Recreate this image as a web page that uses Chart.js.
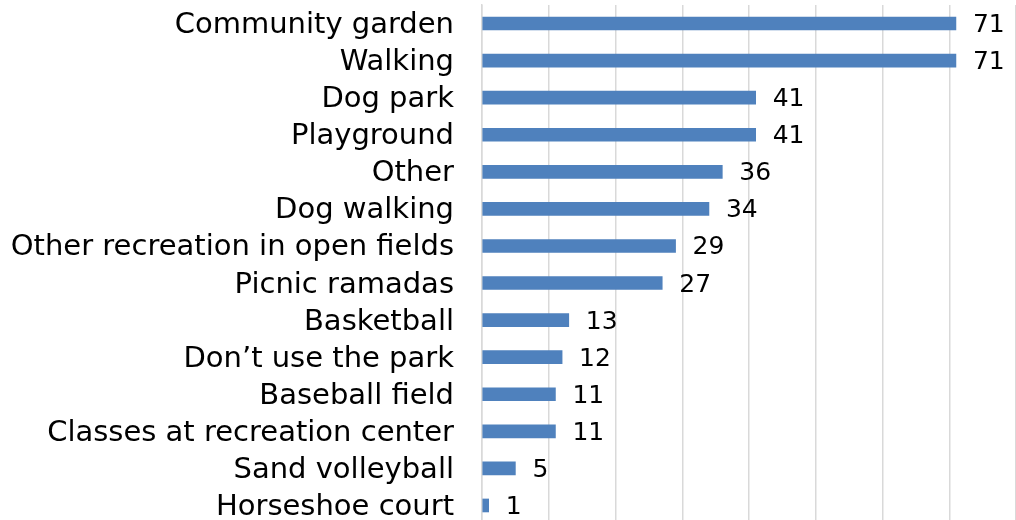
<!DOCTYPE html>
<html>
<head>
<meta charset="utf-8">
<script src="https://cdn.jsdelivr.net/npm/chart.js@4/dist/chart.umd.min.js"></script>
<style>
  html, body { margin: 0; padding: 0; background: #fff; overflow: hidden; }
  #wrap { width: 1016px; height: 524px; position: relative; }
</style>
</head>
<body>
<div id="wrap"><canvas id="chart"></canvas></div>
<script>
const categories = [
    "Community garden", "Walking", "Dog park", "Playground", "Other", "Dog walking",
    "Other recreation in open fields", "Picnic ramadas", "Basketball", "Don\u2019t use the park",
    "Baseball field", "Classes at recreation center", "Sand volleyball", "Horseshoe court"
];
const counts = [71, 71, 41, 41, 36, 34, 29, 27, 13, 12, 11, 11, 5, 1];
const axisTicks = [0, 10, 20, 30, 40, 50, 60, 70, 80];

const fontFamily = "'DejaVu Sans', sans-serif";

// draws the number at the end of each bar
const barValues = {
    id: 'barValues',
    afterDatasetsDraw(chart) {
        const ctx = chart.ctx;
        const meta = chart.getDatasetMeta(0);
        ctx.save();
        ctx.font = "25px " + fontFamily;
        ctx.fillStyle = "#000";
        ctx.textAlign = "left";
        ctx.textBaseline = "middle";
        meta.data.forEach((bar, i) => {
            ctx.fillText(String(counts[i]), bar.x + 17, bar.y + 2);
        });
        ctx.restore();
    }
};

new Chart(document.getElementById('chart').getContext('2d'), {
    type: 'bar',
    data: {
        labels: categories,
        datasets: [{
            data: counts,
            backgroundColor: '#4f81bd',
            barThickness: 13
        }]
    },
    options: {
        indexAxis: 'y',
        responsive: true,
        maintainAspectRatio: false,
        animation: false,
        layout: { padding: { top: 5, right: 0, bottom: 0, left: 0 } },
        plugins: {
            legend: { display: false },
            tooltip: { enabled: false }
        },
        scales: {
            x: {
                min: 0,
                max: 80,
                afterBuildTicks: (scale) => { scale.ticks = axisTicks.map(v => ({ value: v })); },
                ticks: { display: false },
                grid: { color: '#d9d9d9', lineWidth: 1.5, drawTicks: false },
                border: { display: false }
            },
            y: {
                afterFit: (scale) => {
                    scale.width = 482;
                    scale.paddingTop = 0;
                    scale.paddingBottom = 0;
                },
                ticks: {
                    color: '#000',
                    padding: 28,
                    autoSkip: false,
                    labelOffset: 2,
                    font: { family: fontFamily, size: 29 }
                },
                grid: { display: false, drawTicks: false },
                border: { display: true, color: '#d9d9d9', width: 1.5 }
            }
        }
    },
    plugins: [barValues]
});
</script>
</body>
</html>
